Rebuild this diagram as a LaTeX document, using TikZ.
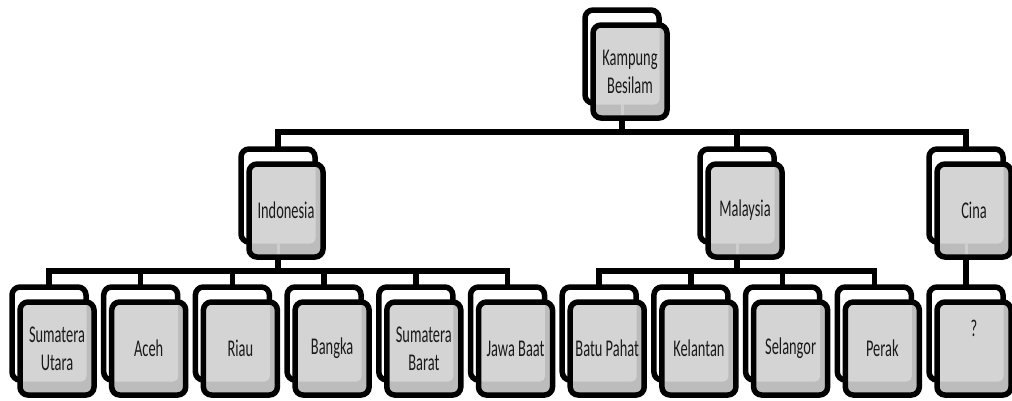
\documentclass[tikz,border=0pt]{standalone}
\usepackage{fontspec}
\usetikzlibrary{backgrounds}
\newfontfamily\labelfont[FakeStretch=0.6]{Carlito}
\definecolor{face}{HTML}{D4D4D4}
\definecolor{band}{HTML}{BCBCBC}
\definecolor{seamgray}{HTML}{CECECE}
\definecolor{txt}{HTML}{1A1A1A}
\pgfdeclarelayer{paper}
\pgfsetlayers{paper,background,main}

% one organisation unit: white back frame plus shaded front card
\newcommand\orgpair[5]{%
  \node[backbox] (#1b) at (#2,#3) {};
  \node[#4] (#1) at (#2+8,#3+15) {#5};}

\begin{document}
\begin{tikzpicture}[x=1pt,y=-1pt,
  frame/.style={draw=black, line width=5.5pt, rounded corners=8pt,
    minimum width=74pt, minimum height=93pt, inner sep=0pt, outer sep=0pt},
  backbox/.style={frame, fill=white},
  frontbox/.style={frame, fill=band, align=center, text=txt,
    font=\labelfont\fontsize{24}{28}\selectfont,
    path picture={\fill[face, rounded corners=5pt]
      ([xshift=-1pt,yshift=1pt]path picture bounding box.north west) rectangle
      ([xshift=-7.5pt,yshift=13.5pt]path picture bounding box.south east);}},
  parentbox/.style={frontbox,
    path picture={\fill[face, rounded corners=5pt]
      ([xshift=-1pt,yshift=1pt]path picture bounding box.north west) rectangle
      ([xshift=-7.5pt,yshift=13.5pt]path picture bounding box.south east);
      \draw[seamgray, line width=3pt]
      ([xshift=-8pt]path picture bounding box.south) -- ++(0pt,14pt);}},
  conn/.style={draw=black, line width=5.5pt},
]
\useasboundingbox (0,0) rectangle (1012,400);
\begin{pgfonlayer}{paper}
  \fill[white] (0,0) rectangle (1012,400);
\end{pgfonlayer}

% level 1
\orgpair{kamp}{622}{56.5}{parentbox}{Kampung\\Besilam}
% level 2
\orgpair{indo}{278}{195.5}{parentbox}{Indonesia}
\orgpair{mala}{737}{195.5}{parentbox}{Malaysia}
\orgpair{cina}{966}{195.5}{parentbox}{Cina}
% level 3
\orgpair{sumu}{49}{333.5}{frontbox}{Sumatera\\Utara}
\orgpair{aceh}{140.7}{333.5}{frontbox}{Aceh}
\orgpair{riau}{232.4}{333.5}{frontbox}{Riau}
\orgpair{bang}{324.1}{333.5}{frontbox}{Bangka}
\orgpair{sumb}{415.8}{333.5}{frontbox}{Sumatera\\Barat}
\orgpair{jawa}{507.5}{333.5}{frontbox}{Jawa Baat}
\orgpair{batu}{599.2}{333.5}{frontbox}{Batu Pahat}
\orgpair{kela}{690.9}{333.5}{frontbox}{Kelantan}
\orgpair{sela}{782.6}{333.5}{frontbox}{Selangor}
\orgpair{pera}{874.3}{333.5}{frontbox}{Perak}
\orgpair{unkn}{966}{333.5}{frontbox}{\raisebox{12pt}[0pt][0pt]{?}}

\coordinate (busA) at (0,132);
\coordinate (busB) at (0,271);

\begin{scope}[on background layer]
  % root to countries
  \draw[conn] (kampb.center |- kamp.south) -- (kampb.center |- busA);
  \draw[conn] (indob.north) |- (kampb.center |- busA) -| (cinab.north);
  \draw[conn] (malab.north) -- (malab.north |- busA);
  % Indonesia to provinces
  \draw[conn] (indob.center |- indo.south) -- (indob.center |- busB);
  \draw[conn] (sumub.north) |- (indob.center |- busB) -| (jawab.north);
  \foreach \c in {aceh,riau,bang,sumb}
    \draw[conn] (\c b.north) -- (\c b.north |- busB);
  % Malaysia to states
  \draw[conn] (malab.center |- mala.south) -- (malab.center |- busB);
  \draw[conn] (batub.north) |- (malab.center |- busB) -| (perab.north);
  \foreach \c in {kela,sela}
    \draw[conn] (\c b.north) -- (\c b.north |- busB);
  % Cina
  \draw[conn] (cinab.center |- cina.south) -- (unknb.north);
\end{scope}
\end{tikzpicture}
\end{document}
